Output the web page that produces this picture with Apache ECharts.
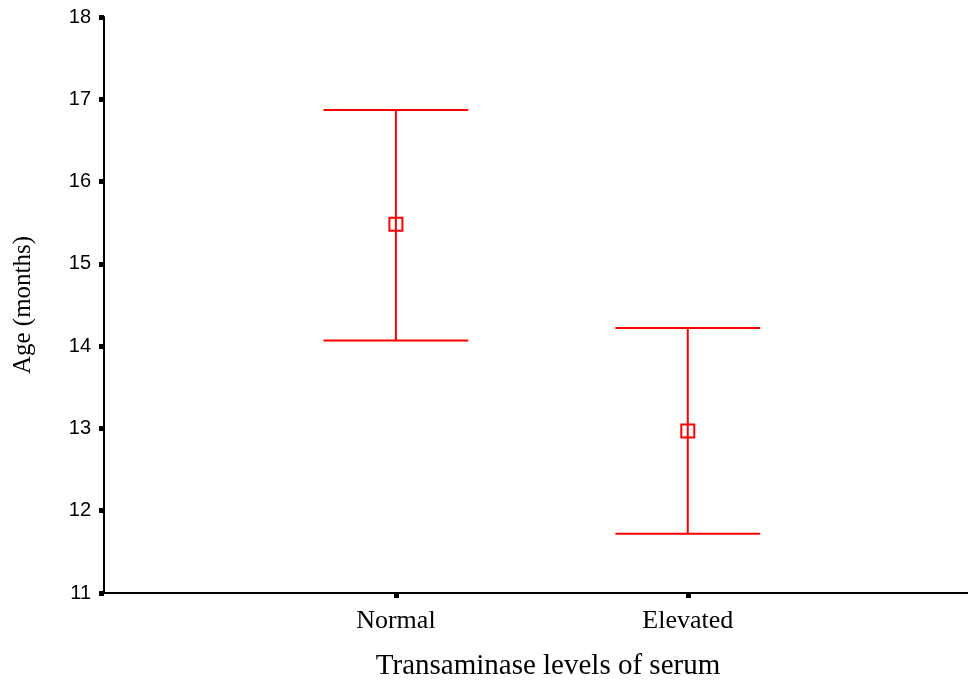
<!DOCTYPE html>
<html>
<head>
<meta charset="utf-8">
<script src="https://cdn.jsdelivr.net/npm/echarts@6/dist/echarts.min.js"></script>
<style>html,body{margin:0;padding:0;background:#fff}#c{width:968px;height:681px}</style>
</head>
<body>
<div id="c"></div>
<script>
const categories = ['Normal', 'Elevated'];
const categoryPos = [1, 2];
const meanValues = [15.48, 12.97];
const upperValues = [16.87, 14.22];
const lowerValues = [14.07, 11.72];
const yTicks = [11, 12, 13, 14, 15, 16, 17, 18];

const chart = echarts.init(document.getElementById('c'));
const red = '#ff0000';
const data = categories.map((c, i) => [categoryPos[i], meanValues[i], upperValues[i], lowerValues[i]]);

chart.setOption({
  animation: false,
  grid: { left: 104, top: 17, bottom: 88, right: 0, outerBoundsMode: 'none', containLabel: false },
  xAxis: {
    type: 'value', min: 0, max: 2.96,
    splitLine: { show: false },
    axisLine: { lineStyle: { color: '#000', width: 2 } },
    axisTick: { show: true, length: 5, lineStyle: { color: '#000', width: 5 }, customValues: categoryPos },
    axisLabel: {
      customValues: categoryPos,
      formatter: v => categories[categoryPos.indexOf(v)] || '',
      fontFamily: 'Liberation Serif', fontSize: 26, color: '#000', margin: 15
    },
    name: 'Transaminase levels of serum', nameLocation: 'middle', nameGap: 59,
    nameTextStyle: { fontFamily: 'Liberation Serif', fontSize: 29, color: '#000', padding: [0, 0, 0, 24] }
  },
  yAxis: {
    type: 'value', min: 11, max: 18, interval: 1,
    splitLine: { show: false },
    axisLine: { show: true, lineStyle: { color: '#000', width: 2 } },
    axisTick: { show: true, length: 5, lineStyle: { color: '#000', width: 5 } },
    axisLabel: { fontFamily: 'Liberation Sans', fontSize: 20, color: '#000', margin: 13,
      formatter: v => yTicks.includes(v) ? String(v) : '' },
    name: 'Age (months)', nameLocation: 'middle', nameGap: 68,
    nameTextStyle: { fontFamily: 'Liberation Serif', fontSize: 25, color: '#000' }
  },
  series: [{
    type: 'custom',
    data: data,
    renderItem: function (params, api) {
      const x = api.value(0);
      const top = api.coord([x, api.value(2)]);
      const bot = api.coord([x, api.value(3)]);
      const mid = api.coord([x, api.value(1)]);
      const hw = api.size([0.248, 0])[0];
      const ls = { stroke: red, lineWidth: 2 };
      const s = 6.5;
      return {
        type: 'group',
        children: [
          { type: 'line', shape: { x1: top[0], y1: top[1], x2: bot[0], y2: bot[1] }, style: ls },
          { type: 'line', shape: { x1: top[0] - hw, y1: top[1], x2: top[0] + hw, y2: top[1] }, style: ls },
          { type: 'line', shape: { x1: bot[0] - hw, y1: bot[1], x2: bot[0] + hw, y2: bot[1] }, style: ls },
          { type: 'rect', shape: { x: mid[0] - s, y: mid[1] - s, width: 2 * s, height: 2 * s }, style: { fill: 'none', stroke: red, lineWidth: 2 } }
        ]
      };
    }
  }]
});
</script>
</body>
</html>
